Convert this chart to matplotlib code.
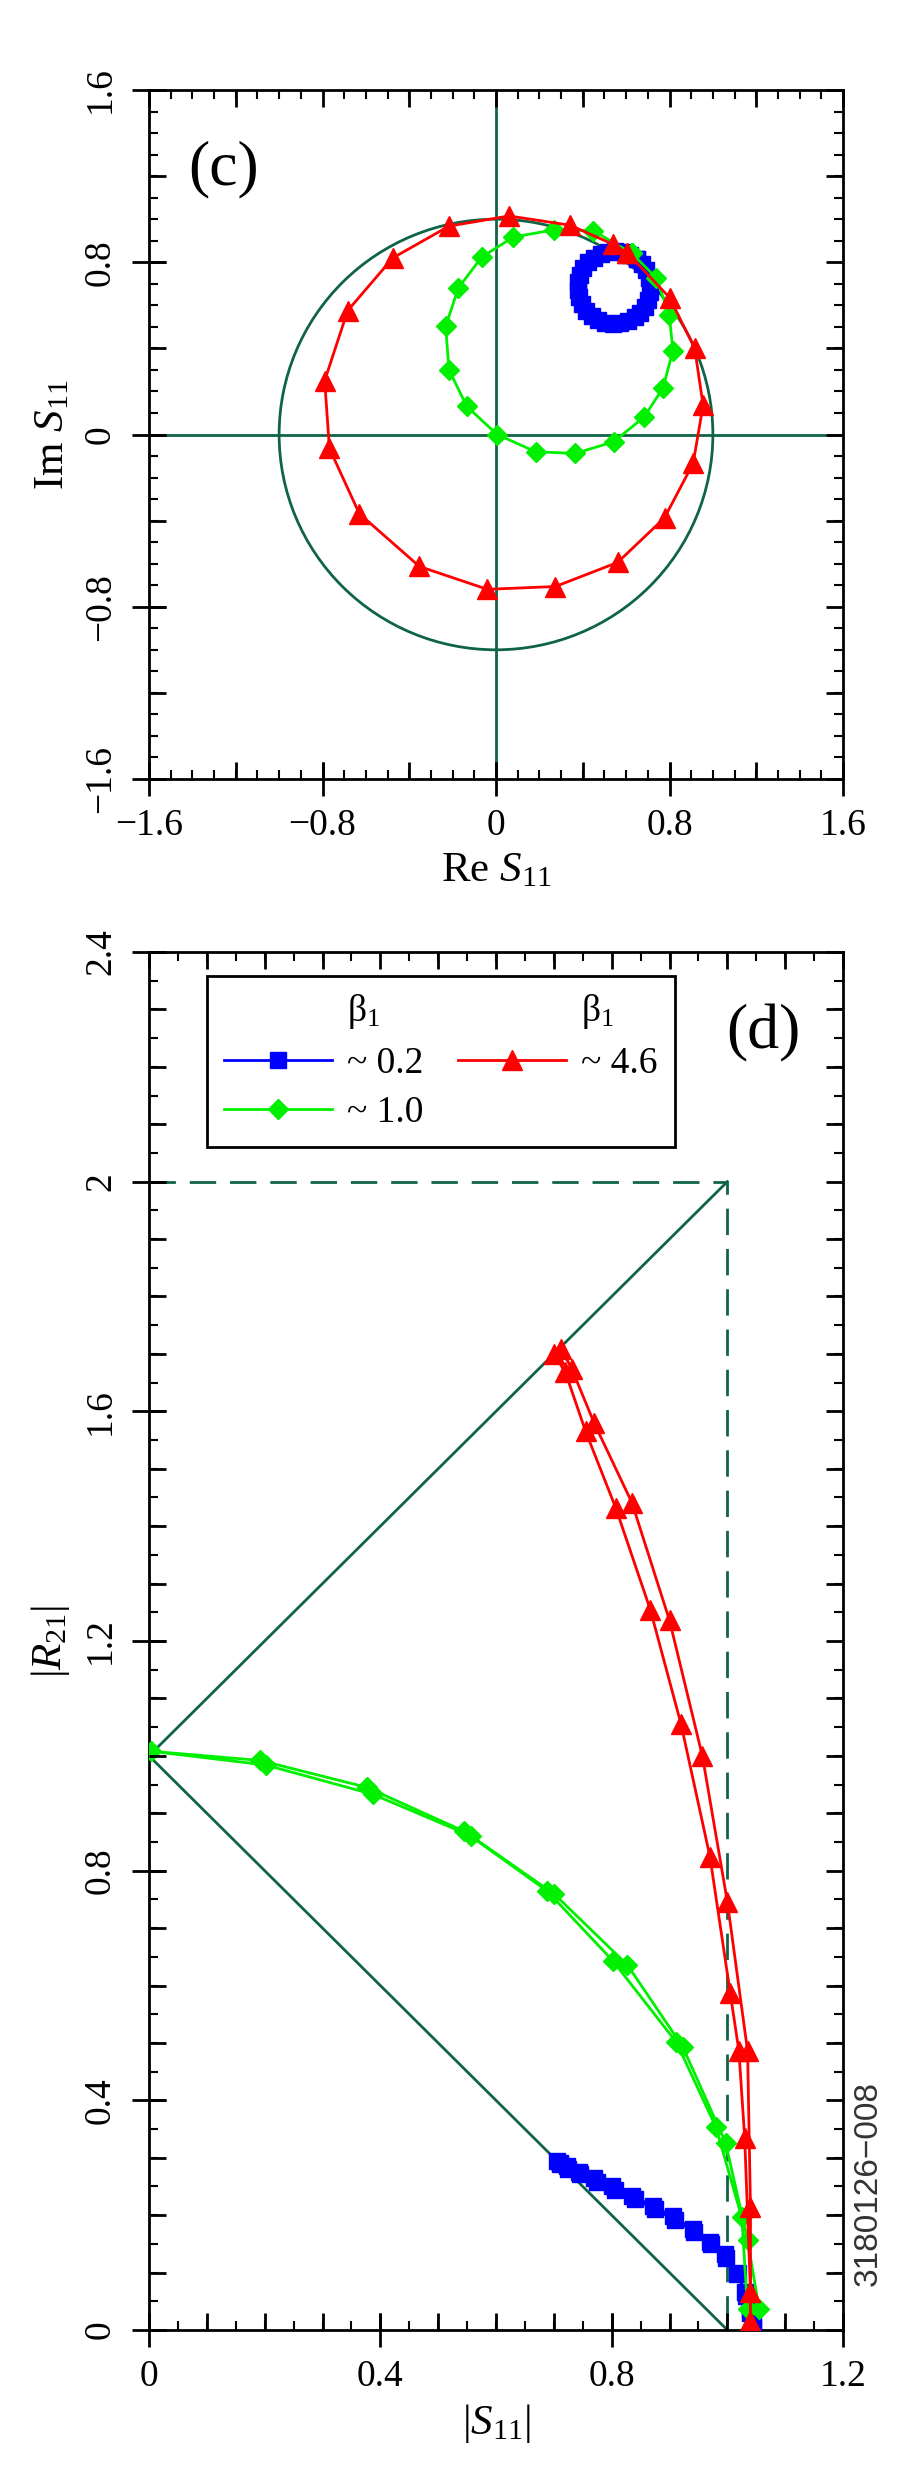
import matplotlib
matplotlib.use("Agg")
import matplotlib.pyplot as plt
from matplotlib.lines import Line2D
from matplotlib.patches import Circle
from matplotlib.ticker import MultipleLocator, NullFormatter, FuncFormatter

plt.rcParams['font.family'] = ['Liberation Serif', 'DejaVu Serif']
plt.rcParams['mathtext.fontset'] = 'custom'
plt.rcParams['mathtext.rm'] = 'Liberation Serif'
plt.rcParams['mathtext.it'] = 'Liberation Serif:italic'
plt.rcParams['mathtext.bf'] = 'Liberation Serif:bold'

# ---------------- data: panel (c) Re/Im S11 ----------------
re_blue = [0.648, 0.619, 0.586, 0.551, 0.516, 0.482, 0.451, 0.424, 0.403, 0.387, 0.379,
           0.377, 0.384, 0.397, 0.416, 0.442, 0.471, 0.504, 0.539, 0.574, 0.608, 0.639,
           0.666, 0.687, 0.703, 0.711, 0.713, 0.706, 0.693, 0.674, 0.648]
im_blue = [0.815, 0.834, 0.846, 0.851, 0.848, 0.839, 0.822, 0.800, 0.772, 0.740, 0.706,
           0.671, 0.637, 0.604, 0.575, 0.551, 0.532, 0.520, 0.515, 0.518, 0.527, 0.544,
           0.566, 0.594, 0.626, 0.660, 0.695, 0.729, 0.762, 0.791, 0.815]

re_green = [0.626, 0.449, 0.269, 0.080, -0.066, -0.174, -0.232, -0.217, -0.135, 0.005,
            0.183, 0.365, 0.542, 0.682, 0.770, 0.816, 0.799, 0.739, 0.626]
im_green = [0.842, 0.946, 0.951, 0.917, 0.824, 0.680, 0.502, 0.301, 0.131, 0.000,
            -0.080, -0.088, -0.034, 0.080, 0.216, 0.390, 0.553, 0.727, 0.842]

re_red = [0.606, 0.800, 0.916, 0.955, 0.909, 0.777, 0.561, 0.274, -0.040, -0.353,
          -0.630, -0.768, -0.790, -0.684, -0.476, -0.216, 0.060, 0.342, 0.538, 0.606]
im_red = [0.843, 0.636, 0.401, 0.136, -0.134, -0.387, -0.594, -0.706, -0.719, -0.613,
          -0.368, -0.065, 0.250, 0.575, 0.820, 0.968, 1.015, 0.972, 0.884, 0.843]

# ---------------- data: panel (d) |S11| vs |R21| ----------------
s_blue = [1.045, 1.040, 1.032, 1.018, 0.996, 0.970, 0.940, 0.906, 0.871, 0.836, 0.801,
          0.770, 0.744, 0.723, 0.710, 0.705, 0.711, 0.725, 0.746, 0.774, 0.806, 0.840,
          0.875, 0.909, 0.942, 0.971, 0.997, 1.016, 1.031, 1.040, 1.045]
r_blue = [0.005, 0.030, 0.060, 0.100, 0.133, 0.153, 0.176, 0.198, 0.216, 0.234, 0.250,
          0.264, 0.276, 0.285, 0.291, 0.295, 0.289, 0.281, 0.272, 0.258, 0.244, 0.228,
          0.210, 0.192, 0.171, 0.149, 0.126, 0.098, 0.066, 0.035, 0.010]

s_green = [1.055, 1.035, 0.997, 0.923, 0.827, 0.701, 0.556, 0.387, 0.202, 0.003,
           0.192, 0.377, 0.544, 0.688, 0.802, 0.912, 0.980, 1.025, 1.035]
r_green = [0.036, 0.157, 0.326, 0.493, 0.636, 0.759, 0.861, 0.933, 0.984, 1.008,
           0.992, 0.945, 0.869, 0.765, 0.643, 0.501, 0.354, 0.196, 0.036]

s_red = [1.040, 1.040, 1.035, 1.000, 0.957, 0.900, 0.835, 0.770, 0.731, 0.713,
         0.700, 0.720, 0.755, 0.807, 0.867, 0.920, 0.970, 1.005, 1.020, 1.030, 1.040]
r_red = [0.015, 0.214, 0.486, 0.746, 0.999, 1.236, 1.441, 1.579, 1.674, 1.708,
         1.700, 1.668, 1.565, 1.432, 1.254, 1.055, 0.824, 0.587, 0.486, 0.335, 0.067]

# reference lines in (d)
upper_x, upper_y = [0, 1], [1, 2]
lower_x, lower_y = [0, 1], [1, 0]
dash_x, dash_y = [0, 1, 1], [2, 2, 0]

legend_labels = ['~ 0.2', '~ 1.0', '~ 4.6']
legend_title = r'β$_{1}$'

BLUE, GREEN, RED = '#0000ff', '#00f000', '#ff0000'
DKGREEN = '#0f6448'

TICKFS = 27
LABFS = 31

fig = plt.figure(figsize=(8.97, 24.80), dpi=100)
W, H = 897.0, 2480.0
pos_c = [149 / W, 1 - 779 / H, 694 / W, 689 / H]
pos_d = [149 / W, 1 - 2330 / H, 694 / W, 1378 / H]


def fmt(v, p):
    s = ('%g' % round(v, 6))
    if s in ('-0', '-0.0'):
        s = '0'
    return s.replace('-', '\u2212')


def style_axes(ax, pos, label_step, long_step, short_step, xlim, ylim, name):
    ax.set_xlim(*xlim)
    ax.set_ylim(*ylim)
    for sp in ax.spines.values():
        sp.set_linewidth(2.0)
    ax.xaxis.set_major_locator(MultipleLocator(label_step))
    ax.yaxis.set_major_locator(MultipleLocator(label_step))
    ax.xaxis.set_minor_locator(MultipleLocator(short_step))
    ax.yaxis.set_minor_locator(MultipleLocator(short_step))
    ax.xaxis.set_major_formatter(FuncFormatter(fmt))
    ax.yaxis.set_major_formatter(FuncFormatter(fmt))
    ax.tick_params(which='major', direction='inout', length=24.5, width=2.0,
                   top=False, right=False, labelsize=TICKFS)
    ax.tick_params(axis='x', which='major', pad=9)
    ax.tick_params(axis='y', which='major', pad=10)
    ax.tick_params(which='minor', direction='in', length=6.5, width=1.5,
                   top=True, right=True)
    for lab in ax.get_yticklabels():
        lab.set_rotation(90)
        lab.set_va('center')
    # overlay for intermediate long ticks on all sides
    ov = fig.add_axes(pos, label=name)
    ov.set_xlim(*xlim)
    ov.set_ylim(*ylim)
    ov.patch.set_visible(False)
    for sp in ov.spines.values():
        sp.set_visible(False)
    ov.xaxis.set_major_locator(MultipleLocator(long_step))
    ov.yaxis.set_major_locator(MultipleLocator(long_step))
    ov.xaxis.set_major_formatter(NullFormatter())
    ov.yaxis.set_major_formatter(NullFormatter())
    ov.tick_params(which='major', direction='in', length=12.2, width=2.0,
                   top=True, right=True, bottom=True, left=True)
    ov.tick_params(which='minor', bottom=False, left=False, top=False, right=False)
    return ov


# ---------------- panel (c) ----------------
axc = fig.add_axes(pos_c)
axc.add_patch(Circle((0, 0), 1.0, fill=False, edgecolor=DKGREEN, linewidth=2.0, zorder=1))
axc.axhline(0, color=DKGREEN, linewidth=2.0, zorder=1)
axc.axvline(0, color=DKGREEN, linewidth=2.0, zorder=1)
axc.plot(re_blue, im_blue, color=BLUE, lw=2.0, marker='s', ms=11.5, mec=BLUE, zorder=3)
axc.plot(re_green, im_green, color=GREEN, lw=2.0, marker='D', ms=10, mec=GREEN, zorder=4)
axc.plot(re_red, im_red, color=RED, lw=2.0, marker='^', ms=14, mec=RED, zorder=5)
style_axes(axc, pos_c, 0.8, 0.4, 0.1, (-1.6, 1.6), (-1.6, 1.6), 'ovc')
axc.set_xlabel(r'Re $S_{\mathrm{11}}$', fontsize=LABFS, labelpad=6)
axc.set_ylabel(r'Im $S_{\mathrm{11}}$', fontsize=LABFS, labelpad=8)
axc.text(-1.42, 1.23, '(c)', fontsize=46, ha='left', va='center')

# ---------------- panel (d) ----------------
axd = fig.add_axes(pos_d)
axd.plot(upper_x, upper_y, color=DKGREEN, lw=2.0, zorder=1)
axd.plot(lower_x, lower_y, color=DKGREEN, lw=2.0, zorder=1)
axd.plot(dash_x, dash_y, color=DKGREEN, lw=2.0, dashes=(9.5, 5), zorder=1)
axd.plot(s_blue, r_blue, color=BLUE, lw=2.0, marker='s', ms=11.5, mec=BLUE, zorder=3)
axd.plot(s_green, r_green, color=GREEN, lw=2.0, marker='D', ms=10, mec=GREEN, zorder=4)
axd.plot(s_red, r_red, color=RED, lw=2.0, marker='^', ms=14, mec=RED, zorder=5)
style_axes(axd, pos_d, 0.4, 0.1, 0.05, (0, 1.2), (0, 2.4), 'ovd')
axd.set_xlabel(r'$|S_{\mathrm{11}}|$', fontsize=LABFS, labelpad=6)
axd.set_ylabel(r'$|R_{\mathrm{21}}|$', fontsize=LABFS, labelpad=8)
axd.text(1.062, 2.258, '(d)', fontsize=46, ha='center', va='center')

blank = Line2D([], [], linestyle='none', marker=None)
lb = Line2D([], [], color=BLUE, lw=2.0, marker='s', ms=11.5)
lg = Line2D([], [], color=GREEN, lw=2.0, marker='D', ms=10)
lr = Line2D([], [], color=RED, lw=2.0, marker='^', ms=14)
handles = [blank, lb, lg, blank, lr, blank]
labels = [legend_title, legend_labels[0], legend_labels[1], legend_title, legend_labels[2], '']
leg = axd.legend(handles, labels, ncol=2, loc='upper left',
                 bbox_to_anchor=(0.1 / 1.2, 2.359 / 2.4), fontsize=27,
                 handlelength=2.9, handletextpad=0.4, columnspacing=0.9,
                 borderpad=0.45, labelspacing=0.4, fancybox=False, framealpha=1,
                 edgecolor='black', borderaxespad=0)
leg.get_frame().set_linewidth(2.0)
leg.set_zorder(10)

fig.text(868 / W, 1 - 2184 / H, '3180126\u2212008', rotation=90, fontsize=24,
         family=['Liberation Sans Narrow', 'Liberation Sans'], ha='center', va='center',
         color='#333333')

fig.savefig('out.png', dpi=100)
